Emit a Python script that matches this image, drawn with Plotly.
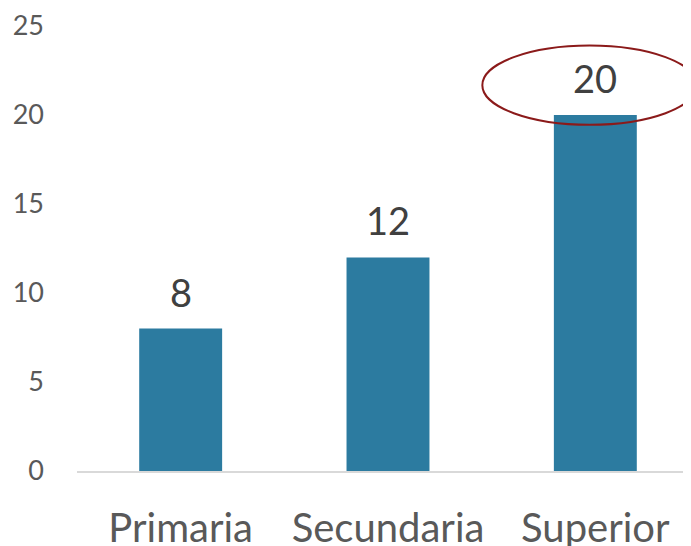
import plotly.graph_objects as go

categories = ["Primaria", "Secundaria", "Superior"]
values = [8, 12, 20]
y_ticks = [0, 5, 10, 15, 20, 25]

BAR = "#2C7BA0"
FONT = "Lato, 'Open Sans', sans-serif"

fig = go.Figure()
fig.add_trace(go.Bar(x=categories, y=values, width=0.4, marker_color=BAR,
                     marker_line_width=0, hoverinfo="skip"))

for c, v in zip(categories, values):
    fig.add_annotation(x=c, y=v, text=str(v), showarrow=False, yanchor="bottom",
                       yshift=12, font=dict(family=FONT, size=38, color="#404040"))

# highlight ellipse around the top value
fig.add_shape(type="circle", xref="x", yref="y", x0=1.455, x1=2.49, y0=19.45, y1=23.9,
              line=dict(color="#8B1A1A", width=2), fillcolor="rgba(0,0,0,0)", layer="above")

fig.update_layout(
    width=691, height=546,
    margin=dict(l=69, r=0, t=16, b=83),
    plot_bgcolor="white", paper_bgcolor="white",
    showlegend=False,
    font=dict(family=FONT, color="#595959"),
)
fig.update_xaxes(type="category", range=[-0.5, 2.5], showline=True, linecolor="#D9D9D9",
                 linewidth=1.5, ticks="", showgrid=False, zeroline=False,
                 tickfont=dict(family=FONT, size=40, color="#595959"), ticklabelstandoff=21,
                 ticklabeloverflow="allow")
fig.update_yaxes(range=[0, 25], tickvals=y_ticks, showgrid=False, zeroline=False, showline=False,
                 ticks="", tickfont=dict(family=FONT, size=27, color="#595959"),
                 ticklabelstandoff=32, ticklabeloverflow="allow")

fig.write_html("out.html")
